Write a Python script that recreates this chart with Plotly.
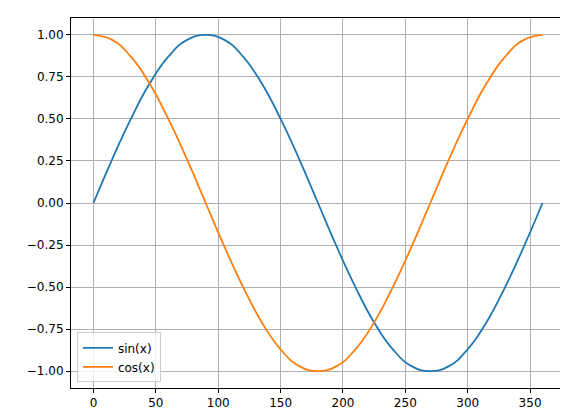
import plotly.graph_objects as go

x_deg = [0, 15, 30, 45, 60, 75, 90, 105, 120, 135, 150, 165, 180, 195, 210, 225, 240, 255, 270, 285, 300, 315, 330, 345, 360]
sin_vals = [0.0, 0.26, 0.5, 0.71, 0.87, 0.97, 1.0, 0.97, 0.87, 0.71, 0.5, 0.26, 0.0, -0.26, -0.5, -0.71, -0.87, -0.97, -1.0, -0.97, -0.87, -0.71, -0.5, -0.26, 0.0]
cos_vals = [1.0, 0.97, 0.87, 0.71, 0.5, 0.26, 0.0, -0.26, -0.5, -0.71, -0.87, -0.97, -1.0, -0.97, -0.87, -0.71, -0.5, -0.26, 0.0, 0.26, 0.5, 0.71, 0.87, 0.97, 1.0]

fig = go.Figure()
fig.add_trace(go.Scatter(x=x_deg, y=sin_vals, mode="lines", name="sin(x)",
                         line=dict(color="#1f77b4", width=1.8, shape="spline", smoothing=1.3)))
fig.add_trace(go.Scatter(x=x_deg, y=cos_vals, mode="lines", name="cos(x)",
                         line=dict(color="#ff7f0e", width=1.8, shape="spline", smoothing=1.3)))

axis_common = dict(showgrid=True, gridcolor="#b0b0b0", gridwidth=0.8, zeroline=False,
                   showline=True, linecolor="black", linewidth=1, mirror=True,
                   ticks="outside", ticklen=4, tickcolor="black", automargin=False,
                   tickfont=dict(family="DejaVu Sans", size=12, color="black"))
fig.update_xaxes(range=[-18, 378], tickvals=[0, 50, 100, 150, 200, 250, 300, 350], **axis_common)
fig.update_yaxes(range=[-1.1, 1.1], tickvals=[-1, -0.75, -0.5, -0.25, 0, 0.25, 0.5, 0.75, 1],
                 tickformat=".2f", **axis_common)

fig.update_layout(width=568, height=413, margin=dict(l=63, r=11, t=10, b=33),
                  plot_bgcolor="white", paper_bgcolor="white",
                  font=dict(family="DejaVu Sans", size=12, color="black"),
                  legend=dict(x=0.012, y=0.015, xanchor="left", yanchor="bottom",
                              bgcolor="rgba(255,255,255,0.8)", bordercolor="#cccccc", borderwidth=1,
                              font=dict(size=12)))
fig.write_html("out.html")
